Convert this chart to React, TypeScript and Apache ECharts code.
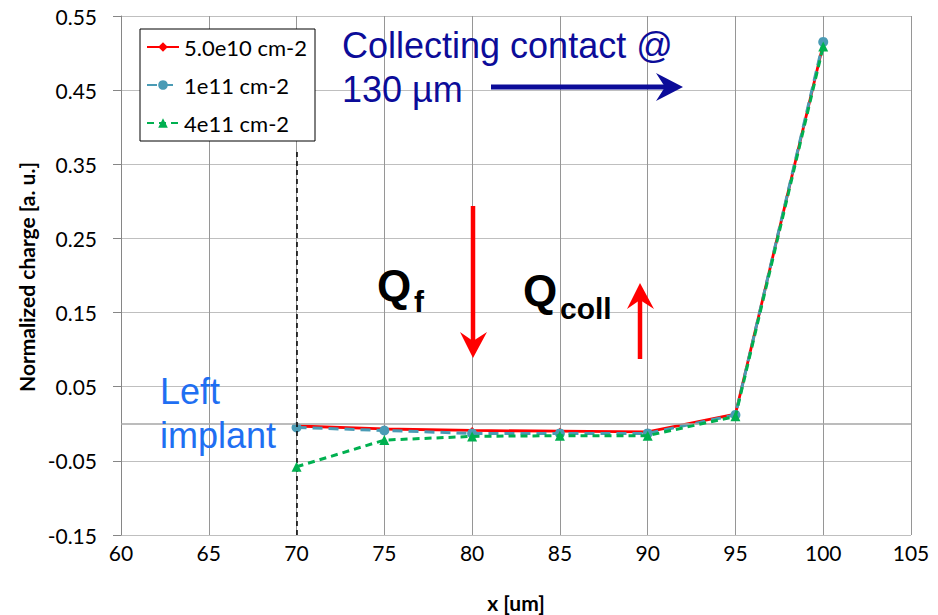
import React, { useEffect, useRef } from "react";
import * as echarts from "echarts";

// Position along the device (um)
const xPositions = [70, 75, 80, 85, 90, 95, 100];

// Normalized charge for each interface charge density
const charge5e10 = [-0.003, -0.007, -0.009, -0.010, -0.011, 0.013, 0.512];
const charge1e11 = [-0.005, -0.009, -0.013, -0.013, -0.013, 0.012, 0.515];
const charge4e11 = [-0.058, -0.022, -0.017, -0.016, -0.016, 0.010, 0.509];

const seriesNames = ["5.0e10 cm-2", "1e11 cm-2", "4e11 cm-2"];

const pairs = (ys: number[]) => xPositions.map((x, i) => [x, ys[i]]);

const TICK_FONT = "Lato";
const ANNOT_FONT = "Liberation Sans";

export default function App() {
  const ref = useRef<HTMLDivElement>(null);

  useEffect(() => {
    if (!ref.current) return;
    const chart = echarts.init(ref.current, undefined, { renderer: "svg" });

    const arrowHead = (pts: number[][], color: string) => ({
      type: "polygon",
      shape: { points: pts },
      style: { fill: color },
      z: 100,
    });
    const shaft = (x1: number, y1: number, x2: number, y2: number, color: string, w: number) => ({
      type: "line",
      shape: { x1, y1, x2, y2 },
      style: { stroke: color, lineWidth: w },
      z: 100,
    });
    const label = (text: string, x: number, y: number, size: number, color: string, bold = false) => ({
      type: "text",
      x,
      y,
      z: 100,
      style: {
        text,
        fill: color,
        font: `${bold ? "bold " : ""}${size}px "${ANNOT_FONT}"`,
        align: "left",
        verticalAlign: "middle",
      },
    });

    const navy = "#0c0c99";
    const red = "#ff0000";
    const lightBlue = "#1f6ff2";

    chart.setOption({
      animation: false,
      backgroundColor: "#ffffff",
      grid: { left: 121, right: 27, top: 16, bottom: 80 },
      legend: {
        orient: "vertical",
        left: 140,
        top: 29,
        padding: [7, 8, 7, 6],
        itemGap: 16,
        itemWidth: 32,
        itemHeight: 12,
        backgroundColor: "#ffffff",
        borderColor: "#000000",
        borderWidth: 1,
        borderRadius: 0,
        data: seriesNames,
        textStyle: { fontFamily: TICK_FONT, fontSize: 22, color: "#000000", padding: [0, 0, 0, 0] },
      },
      xAxis: {
        type: "value",
        min: 60,
        max: 105,
        interval: 5,
        axisLine: { show: false },
        axisTick: { show: false },
        axisLabel: { fontFamily: TICK_FONT, fontSize: 21, color: "#000000", margin: 7 },
        splitLine: { show: true, lineStyle: { color: "#969696", width: 1 } },
      },
      yAxis: {
        type: "value",
        min: -0.15,
        max: 0.55,
        interval: 0.1,
        axisLine: { show: true, lineStyle: { color: "#868686", width: 1 } },
        axisTick: { show: true, length: 8, lineStyle: { color: "#868686" } },
        axisLabel: {
          fontFamily: TICK_FONT,
          fontSize: 21,
          color: "#000000",
          margin: 24,
          formatter: (v: number) => v.toFixed(2),
        },
        splitLine: { show: true, lineStyle: { color: "#bfbfbf", width: 1 } },
      },
      series: [
        {
          // reference lines: zero level and the left implant edge
          type: "line",
          data: [],
          silent: true,
          z: 1,
          markLine: {
            silent: true,
            symbol: "none",
            label: { show: false },
            data: [
              [
                { coord: [60, 0], lineStyle: { color: "#a6a6a6", width: 1.5, type: "solid" } },
                { coord: [105, 0] },
              ],
              [
                { coord: [70, -0.15], lineStyle: { color: "#000000", width: 1.5, type: [5, 4] } },
                { coord: [70, 0.37] },
              ],
            ],
          },
        },
        {
          name: seriesNames[0],
          type: "line",
          data: pairs(charge5e10),
          z: 3,
          color: "#ff0000",
          lineStyle: { color: "#ff0000", width: 2.8 },
          itemStyle: { color: "#ff0000" },
          symbol: "diamond",
          symbolSize: 7,
        },
        {
          name: seriesNames[1],
          type: "line",
          data: pairs(charge1e11),
          z: 4,
          color: "#4a9bb5",
          lineStyle: { color: "#4a9bb5", width: 3, type: [10, 6] },
          itemStyle: { color: "#4a9bb5" },
          symbol: "circle",
          symbolSize: 10,
        },
        {
          name: seriesNames[2],
          type: "line",
          data: pairs(charge4e11),
          z: 5,
          color: "#00b050",
          lineStyle: { color: "#00b050", width: 3, type: [7, 5] },
          itemStyle: { color: "#00b050" },
          symbol: "triangle",
          symbolSize: 10,
        },
      ],
      graphic: [
        {
          type: "text",
          x: 26,
          y: 277,
          rotation: Math.PI / 2,
          style: {
            text: "Normalized charge [a. u.]",
            font: `bold 21px "${TICK_FONT}"`,
            fill: "#000000",
            align: "center",
            verticalAlign: "middle",
          },
        },
        {
          type: "text",
          x: 516,
          y: 602,
          style: {
            text: "x [um]",
            font: `bold 21px "${TICK_FONT}"`,
            fill: "#000000",
            align: "center",
            verticalAlign: "middle",
          },
        },
        label("Collecting contact @", 342, 45, 36, navy),
        label("130 µm", 342, 89, 36, navy),
        shaft(491, 87, 666, 87, navy, 5),
        arrowHead([[683, 87], [656, 73], [665, 87], [656, 101]], navy),
        label("Left", 160, 391, 36, lightBlue),
        label("implant", 160, 435, 36, lightBlue),
        label("Q", 377, 285, 44, "#000000", true),
        label("f", 414, 301, 30, "#000000", true),
        label("Q", 523, 290, 44, "#000000", true),
        label("coll", 560, 308, 30, "#000000", true),
        shaft(473, 206, 473, 345, red, 4.5),
        arrowHead([[473, 358], [460, 332], [473, 341], [487, 332]], red),
        shaft(640, 359, 640, 296, red, 4.5),
        arrowHead([[640, 283], [627, 309], [640, 300], [654, 309]], red),
      ],
    });

    return () => chart.dispose();
  }, []);

  return (
    <div
      ref={ref}
      style={{ position: "fixed", left: 0, top: 0, width: 938, height: 615, background: "#fff" }}
    />
  );
}
